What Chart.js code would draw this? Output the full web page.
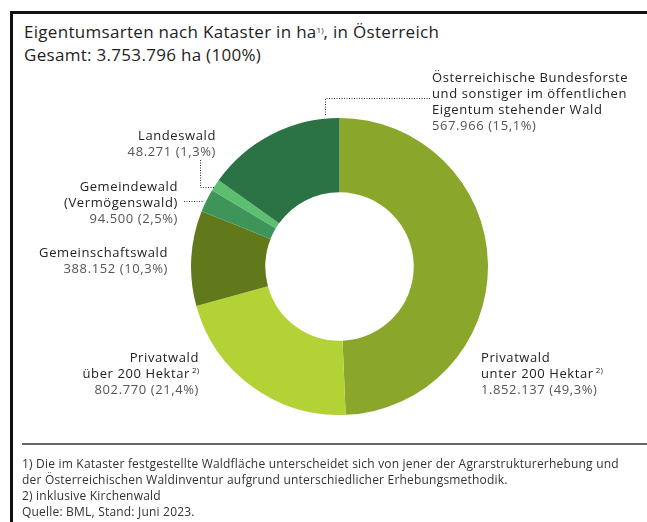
<!DOCTYPE html>
<html>
<head>
<meta charset="utf-8">
<script src="https://cdn.jsdelivr.net/npm/chart.js@4"></script>
<style>
  body { margin: 0; width: 647px; height: 522px; background: #fff; position: relative; overflow: hidden; font-family: "Open Sans", sans-serif; color: #222; }
  #frame { position: absolute; left: 10px; top: 11px; width: 660px; height: 540px; border-left: 3px solid #111; border-top: 3px solid #111; }
  .t { position: absolute; font-size: 17px; letter-spacing: 0.3px; line-height: 20px; color: #1e1e1e; white-space: nowrap; }
  .lbl { position: absolute; font-size: 13px; letter-spacing: 0.6px; line-height: 16px; white-space: nowrap; color: #222; }
  .lbl .v { color: #555; }
  .r { text-align: right; }
  sup { font-size: 8px; letter-spacing: 0; vertical-align: 5px; line-height: 0; }
  #sep { position: absolute; left: 22px; top: 443px; width: 640px; height: 0; border-top: 2px solid #666; }
  #notes { position: absolute; left: 22px; top: 456px; font-size: 12px; letter-spacing: 0.2px; line-height: 16px; color: #333; white-space: nowrap; }
  #wrap { position: absolute; left: 191px; top: 118px; width: 297px; height: 297px; }
  svg { position: absolute; left: 0; top: 0; }
</style>
</head>
<body>
<div id="frame"></div>
<div class="t" style="left:24px; top:22px;">Eigentumsarten nach Kataster in ha<sup>1)</sup>, in Österreich</div>
<div class="t" style="left:24px; top:45px;">Gesamt: 3.753.796 ha (100%)</div>

<div id="wrap"><canvas id="chart" width="297" height="297"></canvas></div>

<svg width="647" height="522">
  <g stroke="#333" stroke-width="1" fill="none" stroke-dasharray="1 1.5">
    <polyline points="430,98.5 325.5,98.5 325.5,116"/>
    <polyline points="200.5,160 200.5,187.5 214,187.5"/>
    <polyline points="184,201.5 203,201.5"/>
  </g>
</svg>

<div class="lbl" style="left:432px; top:69px;">Österreichische Bundesforste<br>und sonstiger im öffentlichen<br>Eigentum stehender Wald<br><span class="v">567.966 (15,1%)</span></div>
<div class="lbl r" style="right:431px; top:127px;">Landeswald<br><span class="v">48.271 (1,3%)</span></div>
<div class="lbl r" style="right:469px; top:178px;">Gemeindewald<br>(Vermögenswald)<br><span class="v">94.500 (2,5%)</span></div>
<div class="lbl r" style="right:479px; top:244px;">Gemeinschaftswald<br><span class="v">388.152 (10,3%)</span></div>
<div class="lbl r" style="right:448px; top:349px;">Privatwald<br>über 200 Hektar<sup> 2)</sup><br><span class="v">802.770 (21,4%)</span></div>
<div class="lbl" style="left:481px; top:349px;">Privatwald<br>unter 200 Hektar<sup> 2)</sup><br><span class="v">1.852.137 (49,3%)</span></div>

<div id="sep"></div>
<div id="notes">1) Die im Kataster festgestellte Waldfläche unterscheidet sich von jener der Agrarstrukturerhebung und<br>der Österreichischen Waldinventur aufgrund unterschiedlicher Erhebungsmethodik.<br>2) inklusive Kirchenwald<br>Quelle: BML, Stand: Juni 2023.</div>

<script>
const categories = ['Privatwald unter 200 Hektar', 'Privatwald über 200 Hektar', 'Gemeinschaftswald', 'Gemeindewald (Vermögenswald)', 'Landeswald', 'Österreichische Bundesforste und sonstiger im öffentlichen Eigentum stehender Wald'];
const hectares = [1852137, 802770, 388152, 94500, 48271, 567966];
const colors = ['#8ba72b', '#b3d236', '#62791b', '#3f9459', '#5cbf70', '#2b7245'];

new Chart(document.getElementById('chart'), {
  type: 'doughnut',
  data: {
    labels: categories,
    datasets: [{ data: hectares, backgroundColor: colors, borderWidth: 0 }]
  },
  options: {
    responsive: false,
    animation: false,
    cutout: '50%',
    plugins: { legend: { display: false }, tooltip: { enabled: false } }
  }
});
</script>
</body>
</html>
